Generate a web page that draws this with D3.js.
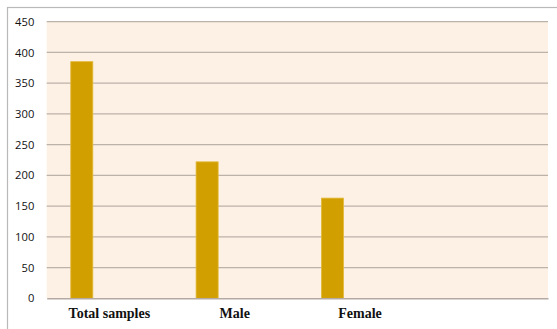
<!DOCTYPE html>
<html>
<head>
<meta charset="utf-8">
<script src="https://cdn.jsdelivr.net/npm/d3@7/dist/d3.min.js"></script>
<style>
  html, body { margin: 0; padding: 0; background: #fff; }
  svg { display: block; }
</style>
</head>
<body>
<svg id="chart" width="557" height="329"></svg>
<script>
// Sample counts by group
const categories = ["Total samples", "Male", "Female", ""];
const counts = [385, 222, 163];
const yTicks = [0, 50, 100, 150, 200, 250, 300, 350, 400, 450];

const W = 557, H = 329;
const plot = { left: 46.7, right: 548, top: 21.7, bottom: 298.3 };

const svg = d3.select("#chart");

// Outer chart frame
svg.append("rect")
  .attr("x", 7.5).attr("y", 7.5)
  .attr("width", W + 10).attr("height", H + 10)
  .attr("fill", "#fff")
  .attr("stroke", "#b9b9b9")
  .attr("stroke-width", 1.2);

const x = d3.scaleBand()
  .domain(categories)
  .range([plot.left, plot.right])
  .padding(0);

const y = d3.scaleLinear()
  .domain([0, 450])
  .range([plot.bottom, plot.top]);

// Plot background
svg.append("rect")
  .attr("x", plot.left).attr("y", plot.top)
  .attr("width", plot.right - plot.left)
  .attr("height", plot.bottom - plot.top)
  .attr("fill", "#fdf1e5");

// Horizontal gridlines
svg.append("g")
  .selectAll("line")
  .data(yTicks.filter(t => t > 0))
  .join("line")
  .attr("x1", plot.left).attr("x2", plot.right)
  .attr("y1", d => y(d)).attr("y2", d => y(d))
  .attr("stroke", "#bdb2a9")
  .attr("stroke-width", 1.2);

// Y axis labels
const yAxis = d3.axisLeft(y).tickValues(yTicks).tickSize(0).tickPadding(12.4);
const gy = svg.append("g")
  .attr("transform", `translate(${plot.left},0)`)
  .call(yAxis);
gy.select(".domain").remove();
gy.selectAll("text")
  .attr("font-family", "'Open Sans', 'Liberation Sans', sans-serif")
  .attr("font-size", 11.2)
  .attr("fill", "#111");

// Bars: one narrow bar near the left of each category band
const bw = x.bandwidth();
svg.append("g")
  .selectAll("rect")
  .data(counts)
  .join("rect")
  .attr("x", (d, i) => x(categories[i]) + bw * 0.192)
  .attr("width", bw * 0.176)
  .attr("y", d => y(d))
  .attr("height", d => y(0) - y(d))
  .attr("fill", "#d29f00")
  .attr("stroke", "#e2b93a")
  .attr("stroke-width", 0.8);

// Category axis
const xAxis = d3.axisBottom(x).tickSize(0).tickPadding(10);
const gx = svg.append("g")
  .attr("transform", `translate(0,${plot.bottom})`)
  .call(xAxis);
gx.select(".domain")
  .attr("stroke", "#b3aaa3")
  .attr("stroke-width", 1.4);
gx.selectAll("text")
  .attr("font-family", "'Liberation Serif', 'Times New Roman', serif")
  .attr("font-weight", "bold")
  .attr("font-size", 14)
  .attr("fill", "#111");
</script>
</body>
</html>
